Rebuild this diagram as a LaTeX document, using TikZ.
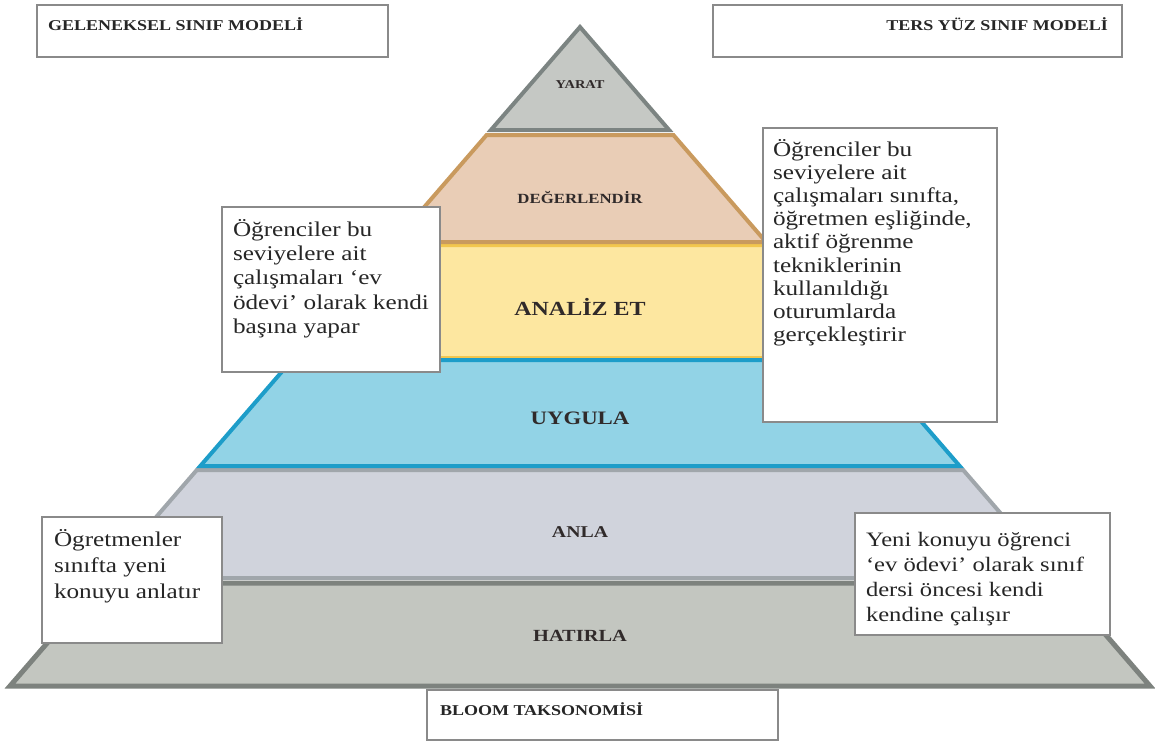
\documentclass[tikz,border=0pt]{standalone}
\usepackage{fontspec}
\setmainfont{Liberation Serif}[FakeStretch=1.2]
\definecolor{yarF}{HTML}{C5C8C4}\definecolor{yarD}{HTML}{7C8482}
\definecolor{degF}{HTML}{E9CDB6}\definecolor{degD}{HTML}{C99A5E}
\definecolor{anaF}{HTML}{FDE7A0}\definecolor{anaD}{HTML}{F2C64E}
\definecolor{uygF}{HTML}{92D3E6}\definecolor{uygD}{HTML}{1D9DC9}
\definecolor{anlF}{HTML}{D0D3DC}\definecolor{anlD}{HTML}{A0A6AB}
\definecolor{hatF}{HTML}{C3C6C0}\definecolor{hatD}{HTML}{7D827E}
\definecolor{lbl}{HTML}{302A2A}
\definecolor{boxD}{HTML}{8A8A8A}
\definecolor{txt}{HTML}{262626}
\newcommand\boxcontent[7]{\parbox[t][#2][t]{#1}{\vspace*{#3}#4#5\rule{0pt}{#6}#7}}
\begin{document}
\begin{tikzpicture}[x=1pt,y=-1pt,
  band/.style={line width=4pt, line join=miter},
  level/.style={font=\bfseries, text=lbl, inner sep=0pt},
  tbox/.style={draw=boxD, line width=1.8pt, fill=white, inner sep=0pt, outer sep=0pt, anchor=north west, text=txt}]
\useasboundingbox (0,0) rectangle (1155,742);
% pyramid bands
\path[band, fill=hatF, draw=hatD, line width=5pt] (10,686) -- (99.1,583) -- (1060.9,583) -- (1150,686) -- cycle;
\path[band, fill=anlF, draw=anlD] (103.4,578) -- (196.8,470) -- (963.2,470) -- (1056.6,578) -- cycle;
\path[band, fill=anaF, draw=anaD] (293.7,358) -- (391.4,245) -- (768.6,245) -- (866.3,358) -- cycle;
\path[band, fill=uygF, draw=uygD] (200.3,466) -- (292,360) -- (868,360) -- (959.7,466) -- cycle;
\path[band, fill=degF, draw=degD] (394,242) -- (486.6,135) -- (673.4,135) -- (766,242) -- cycle;
\path[band, fill=yarF, draw=yarD] (490.9,130) -- (580,27) -- (669.1,130) -- cycle;
% level labels
\node[level, font=\bfseries\fontsize{12}{14}\selectfont] (yarat) at (580,85) {YARAT};
\node[level, font=\bfseries\fontsize{14}{16}\selectfont] (deg) at (580,197) {DEĞERLENDİR};
\node[level, font=\bfseries\fontsize{20}{22}\selectfont] (ana) at (580,307) {ANALİZ ET};
\node[level, font=\bfseries\fontsize{19}{21}\selectfont] (uyg) at (580,418) {UYGULA};
\node[level, font=\bfseries\fontsize{16.5}{20}\selectfont] (anl) at (580,532) {ANLA};
\node[level, font=\bfseries\fontsize{17}{20}\selectfont] (hat) at (580,636) {HATIRLA};
% header boxes
\node[tbox] (gel) at (37,5) {\boxcontent{351pt}{52pt}{10pt}{\raggedright\leftskip=11pt}{\bfseries\fontsize{15}{17}\selectfont}{15pt}{GELENEKSEL SINIF MODELİ}};
\node[tbox] (ters) at (713,5) {\boxcontent{409pt}{52pt}{10pt}{\raggedleft\rightskip=14pt}{\bfseries\fontsize{15}{17}\selectfont}{15pt}{TERS YÜZ SINIF MODELİ}};
\node[tbox] (bloom) at (427,690) {\boxcontent{351pt}{50pt}{10pt}{\raggedright\leftskip=13pt}{\bfseries\fontsize{15}{17}\selectfont}{15pt}{BLOOM TAKSONOMİSİ}};
% text boxes
\node[tbox] (lb) at (222,207) {\boxcontent{218pt}{165pt}{9pt}{\raggedright\leftskip=11pt}{\fontsize{21}{24.4}\selectfont}{20pt}{Öğrenciler bu\\ seviyelere ait\\ çalışmaları ‘ev\\ ödevi’ olarak kendi\\ başına yapar}};
\node[tbox] (rb) at (763,128) {\boxcontent{234pt}{294pt}{8pt}{\raggedright\leftskip=10pt}{\fontsize{21}{23.2}\selectfont}{20pt}{Öğrenciler bu\\ seviyelere ait\\ çalışmaları sınıfta,\\ öğretmen eşliğinde,\\ aktif öğrenme\\ tekniklerinin\\ kullanıldığı\\ oturumlarda\\ gerçekleştirir}};
\node[tbox] (blb) at (42,517) {\boxcontent{180pt}{126pt}{9pt}{\raggedright\leftskip=12pt}{\fontsize{21}{26}\selectfont}{20pt}{Ögretmenler\\ sınıfta yeni\\ konuyu anlatır}};
\node[tbox] (brb) at (855,513) {\boxcontent{255pt}{122pt}{13pt}{\raggedright\leftskip=11pt}{\fontsize{20.5}{25}\selectfont}{20pt}{Yeni konuyu öğrenci\\ ‘ev ödevi’ olarak sınıf\\ dersi öncesi kendi\\ kendine çalışır}};
\end{tikzpicture}
\end{document}
